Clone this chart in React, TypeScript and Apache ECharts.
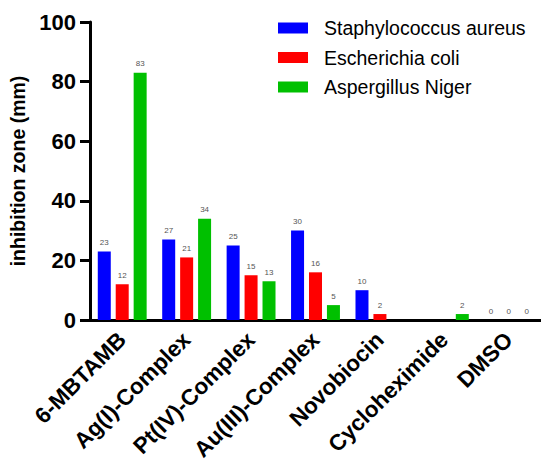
import React, { useEffect, useRef } from "react";
import * as echarts from "echarts";

const categories = [
  "6-MBTAMB",
  "Ag(I)-Complex",
  "Pt(IV)-Complex",
  "Au(III)-Complex",
  "Novobiocin",
  "Cycloheximide",
  "DMSO",
];

const staphylococcus = [23, 27, 25, 30, 10, null, 0];
const escherichia = [12, 21, 15, 16, 2, null, 0];
const aspergillus = [83, 34, 13, 5, null, 2, 0];

const seriesNames = ["Staphylococcus aureus", "Escherichia coli", "Aspergillus Niger"];
const seriesColors = ["#0000ff", "#ff0000", "#00c000"];

const FONT = "Arial, 'Liberation Sans', Helvetica, sans-serif";

export default function App() {
  const ref = useRef<HTMLDivElement>(null);

  useEffect(() => {
    if (!ref.current) return;
    const chart = echarts.init(ref.current, null, { renderer: "svg" });
    const values = [staphylococcus, escherichia, aspergillus];

    chart.setOption({
      animation: false,
      backgroundColor: "#ffffff",
      grid: {
        left: 90,
        right: 0,
        top: 22,
        bottom: 147,
        containLabel: false,
        outerBoundsMode: "none",
      },
      legend: {
        orient: "vertical",
        left: 273,
        top: 13,
        icon: "rect",
        itemWidth: 30,
        itemHeight: 11,
        itemGap: 9.5,
        textStyle: {
          fontFamily: FONT,
          fontSize: 19.5,
          color: "#000",
          lineHeight: 20,
          padding: [0, 0, 0, 11],
        },
        data: seriesNames,
      },
      xAxis: {
        type: "category",
        data: categories,
        axisLine: { lineStyle: { color: "#000", width: 3 } },
        axisTick: { alignWithLabel: true, length: 13, lineStyle: { width: 3, color: "#000" } },
        axisLabel: {
          rotate: 45,
          interval: 0,
          margin: 16,
          fontFamily: FONT,
          fontWeight: "bold",
          fontSize: 22.5,
          color: "#000",
        },
      },
      yAxis: {
        type: "value",
        min: 0,
        max: 100,
        interval: 20,
        name: "inhibition zone (mm)",
        nameLocation: "middle",
        nameGap: 61,
        nameTextStyle: { fontFamily: FONT, fontWeight: "bold", fontSize: 19.5, color: "#000" },
        axisLine: { show: true, lineStyle: { color: "#000", width: 3 } },
        axisTick: { show: true, length: 10, lineStyle: { width: 3, color: "#000" } },
        splitLine: { show: false },
        axisLabel: {
          margin: 14,
          fontFamily: FONT,
          fontWeight: "bold",
          fontSize: 22,
          color: "#000",
        },
      },
      series: seriesNames.map((name, i) => ({
        name,
        type: "bar",
        data: values[i],
        barWidth: 13,
        barGap: "38%",
        itemStyle: { color: seriesColors[i] },
        label: {
          show: true,
          position: "top",
          distance: 5,
          fontFamily: FONT,
          fontSize: 8,
          color: "#555",
        },
      })),
    });

    return () => chart.dispose();
  }, []);

  return (
    <div
      ref={ref}
      style={{ position: "fixed", left: 0, top: 0, width: 541, height: 467, background: "#fff" }}
    />
  );
}
